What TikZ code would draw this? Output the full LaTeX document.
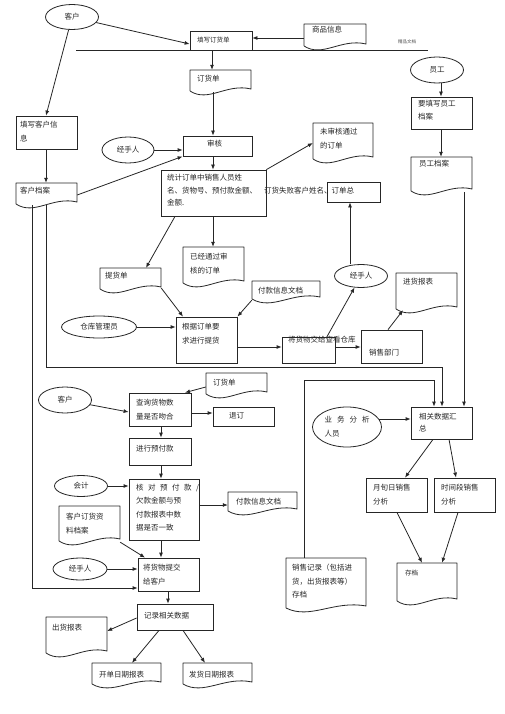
\documentclass[tikz,border=0pt]{standalone}
\usepackage{fontspec}
\setmainfont{Noto Sans CJK SC}
\usetikzlibrary{arrows.meta,shapes.geometric}
\tikzset{
  ln/.style={line width=0.8pt, draw=black!85},
  boxst/.style={rectangle, draw, ln, inner sep=0pt},
  docst/.style={rectangle, inner sep=0pt},
  ellst/.style={ellipse, draw, ln, inner sep=0pt, font=\fontsize{7.5}{12}\selectfont, text=black!85},
  arr/.style={ln, -{Latex[length=5pt,width=4pt]}},
  txt/.style={anchor=north west, inner sep=0pt, align=left, font=\fontsize{7.5}{13.5}\selectfont, text=black!85},
  txts/.style={txt, font=\fontsize{6.5}{12}\selectfont},
}
\newcommand\bx[5]{\node[boxst, minimum width={(#4-#2)*1pt}, minimum height={(#5-#3)*1pt}] (#1) at ({(#2+#4)/2},{(#3+#5)/2}) {};}
\newcommand\dc[5]{%
  \node[docst, minimum width={(#4-#2)*1pt}, minimum height={(#5-#3-3)*1pt}] (#1) at ({(#2+#4)/2},{(#3+#5-3)/2}) {};
  \draw[ln, line join=round] (#2,{#5-4}) -- (#2,#3) -- (#4,#3) -- (#4,{#5-6}) .. controls ({#2+0.6*(#4-#2)},{#5-12}) and ({#2+0.3*(#4-#2)},{#5+8}) .. (#2,{#5-4});}
\newcommand\tx[4]{\node[txt] (#1) at (#2,#3) {#4};}
\begin{document}
\begin{tikzpicture}[x=1pt,y=-1pt]
\fill[white] (0,0) rectangle (505,714);
\useasboundingbox (0,0) rectangle (505,714);

% ---------- ellipses ----------
\node[ellst, minimum width=53pt, minimum height=25pt] (e_cust1) at (72,17) {客户};
\node[ellst, minimum width=53pt, minimum height=26pt] (e_emp) at (437,70) {员工};
\node[ellst, minimum width=52pt, minimum height=26pt] (e_hand1) at (128,150) {经手人};
\node[ellst, minimum width=53pt, minimum height=23pt] (e_hand2) at (361,276) {经手人};
\node[ellst, minimum width=75pt, minimum height=22pt] (e_wh) at (99,327) {仓库管理员};
\node[ellst, minimum width=53pt, minimum height=26pt] (e_cust2) at (65,400) {客户};
\node[ellst, minimum width=53pt, minimum height=21pt] (e_acct) at (81,486) {会计};
\node[ellst, minimum width=54pt, minimum height=22pt] (e_hand3) at (80,569) {经手人};
\node[ellst, minimum width=69pt, minimum height=40pt, align=left, font=\fontsize{7.5}{14}\selectfont] (e_analyst) at (347,427) {业\hspace{5pt}务\hspace{5pt}分\hspace{5pt}析\\人员};

% ---------- boxes ----------
\bx{b_fill}{190}{31}{252}{50}
\bx{b_audit}{183}{136}{252}{156}
\bx{b_stat}{161}{170}{266}{216}
\bx{b_total}{327}{182}{380}{202}
\bx{b_cust_info}{16}{116}{77}{149}
\bx{b_emp_fill}{411}{97}{472}{129}
\bx{b_pick}{176}{317}{237}{363}
\bx{b_deliver}{282}{337}{335}{363}
\bx{b_sales}{361}{330}{422}{363}
\bx{b_query}{129}{393}{191}{426}
\bx{b_cancel}{213}{407}{274}{426}
\bx{b_prepay}{129}{438}{191}{465}
\bx{b_check}{129}{479}{199}{540}
\bx{b_give}{138}{558}{199}{591}
\bx{b_sum}{411}{407}{472}{439}
\bx{b_month}{366}{478}{427}{512}
\bx{b_period}{434}{478}{495}{512}
\bx{b_record}{137}{604}{213}{630}

% ---------- documents ----------
\dc{d_goods}{304}{24}{366}{50}
\dc{d_order}{190}{70}{251}{95}
\dc{d_cust}{16}{183}{77}{208}
\dc{d_unaudit}{313}{123}{373}{163}
\dc{d_emp}{411}{157}{472}{195}
\dc{d_passed}{183}{247}{244}{287}
\dc{d_pickup}{100}{268}{161}{293}
\dc{d_payinfo}{252}{281}{320}{303}
\dc{d_purchase}{396}{273}{457}{313}
\dc{d_order2}{206}{373}{267}{398}
\dc{d_payinfo2}{228}{492}{297}{515}
\dc{d_custorder}{59}{506}{120}{545}
\dc{d_archive}{397}{563}{457}{605}
\dc{d_salesrec}{286}{558}{366}{612}
\dc{d_ship}{46}{617}{107}{657}
\dc{d_open}{92}{663}{161}{688}
\dc{d_send}{183}{663}{252}{688}

% ---------- texts ----------
\node[txts] (t_fill) at (197,37) {填写订货单};
\tx{t_goods}{312}{26}{商品信息}
\tx{t_order}{197}{75}{订货单}
\tx{t_cust_info}{20}{121}{填写客户信\\息}
\tx{t_cust}{20}{187}{客户档案}
\tx{t_emp_fill}{418}{100}{要填写员工\\档案}
\tx{t_emp}{419}{160}{员工档案}
\tx{t_audit}{207}{140}{审核}
\node[txt, font=\fontsize{7.5}{12.5}\selectfont] (t_stat) at (167,174) {统计订单中销售人员姓\\名、货物号、预付款金额、\hspace{7pt}订货失败客户姓名、订单总\\金额.};
\tx{t_unaudit}{320}{128}{未审核通过\\的订单}
\tx{t_passed}{190}{253}{已经通过审\\核的订单}
\tx{t_pickup}{105}{272}{提货单}
\tx{t_payinfo}{258}{287}{付款信息文档}
\tx{t_pick}{182}{323}{根据订单要\\求进行提货}
\tx{t_deliver}{288}{336}{将货物交给查看仓库}
\tx{t_sales}{369}{349}{销售部门}
\tx{t_purchase}{403}{278}{进货报表}
\tx{t_order2}{213}{379}{订货单}
\tx{t_query}{136}{399}{查询货物数\\量是否吻合}
\tx{t_cancel}{229}{412}{退订}
\tx{t_prepay}{136}{445}{进行预付款}
\node[txt, font=\fontsize{7.5}{13.3}\selectfont] (t_check) at (136,484) {核\hspace{4.5pt}对\hspace{4.5pt}预\hspace{4.5pt}付\hspace{4.5pt}款\hspace{4.5pt}/\\欠款金额与预\\付款报表中数\\据是否一致};
\tx{t_payinfo2}{236}{498}{付款信息文档}
\tx{t_custorder}{66}{513}{客户订货资\\料档案}
\tx{t_give}{143}{564}{将货物提交\\给客户}
\tx{t_record}{144}{612}{记录相关数据}
\tx{t_ship}{52}{624}{出货报表}
\tx{t_open}{99}{671}{开单日期报表}
\tx{t_send}{189}{671}{发货日期报表}
\node[txt, font=\fontsize{7.5}{12}\selectfont] (t_sum) at (419,413) {相关数据汇\\总};
\tx{t_month}{373}{484}{月旬日销售\\分析}
\tx{t_period}{441}{484}{时间段销售\\分析}
\node[txts] (t_archive) at (405,570) {存档};
\tx{t_salesrec}{292}{564}{销售记录（包括进\\货，出货报表等）\\存档}
\node[txt, font=\fontsize{4.5}{6}\selectfont, text=black!70] (t_lane) at (398,39) {精品文档};

% ---------- divider ----------
\coordinate (laneL) at (76,50);
\coordinate (laneR) at (428,50);
\draw[ln] (laneL) -- (laneR);

% ---------- connectors ----------
\draw[arr] (e_cust1) -- (b_fill.west |- 0,44);
\draw[arr] (e_cust1) -- (b_cust_info.north -| 46,0);
\draw[arr] (d_goods.west |- 0,38) -- (b_fill.east |- 0,38);
\draw[arr] (b_fill.south -| 212,0) -- (d_order.north -| 212,0);
\draw[arr] (d_order.south -| 213,0) -- (b_audit.north -| 213,0);
\draw[arr] (e_emp.south -| 441,0) -- (b_emp_fill.north -| 441,0);
\draw[arr] (b_emp_fill.south -| 441,0) -- (d_emp.north -| 441,0);
\draw[arr] (b_cust_info.south -| 46,0) -- (d_cust.north -| 46,0);
\draw[arr] (d_cust.east |- 0,195) -- (b_audit.south west);
\draw[arr] (e_hand1) -- (b_audit.west |- e_hand1);
\draw[arr] (b_audit.south -| 213,0) -- (b_stat.north -| 213,0);
\draw[arr] (b_stat.north east) -- (d_unaudit.west |- 0,143);
\draw[arr] (b_stat.south -| 175,0) -- (d_pickup.north -| 146,0);
\draw[arr] (b_stat.south -| 213,0) -- (d_passed.north -| 213,0);
\draw[arr] (d_pickup.east |- 0,288) -- (b_pick.north -| 183,0);
\draw[arr] (d_payinfo.south west) -- (b_pick.north east);
\draw[arr] (e_wh) -- (b_pick.west |- e_wh);
\draw[arr] (b_pick.east |- 0,347) -- (b_deliver.west |- 0,347);
\draw[arr] (b_deliver.north -| 327,0) -- (e_hand2);
\draw[arr] (e_hand2.north -| 350,0) -- (b_total.south -| 350,0);
\draw[arr] (b_deliver.east |- 0,347) -- (b_sales.west |- 0,347);
\draw[arr] (b_sales.north -| 388,0) -- (d_purchase.south -| 403,0);
\draw[arr] (d_cust.south -| 46,0) -- (46,367) -- (442,367) -- (b_sum.north -| 442,0);
\draw[arr] (d_cust.south -| 32,0) -- (32,588) -- (b_give.west |- 0,588);
\draw[arr] (d_emp.south -| 464,0) -- (b_sum.north -| 464,0);
\draw[arr] (d_salesrec.north -| 304,0) -- (304,380) -- (434,380) -- (b_sum.north -| 434,0);
\draw[arr] (e_analyst.14) -- (b_sum.west |- e_analyst.14);
\draw[arr] (b_sum.south -| 433,0) -- (b_month.north -| 405,0);
\draw[arr] (b_sum.south -| 449,0) -- (b_period.north -| 456,0);
\draw[arr] (b_month.south -| 397,0) -- (d_archive.north -| 422,0);
\draw[arr] (b_period.south -| 458,0) -- (d_archive.north -| 442,0);
\draw[arr] (e_cust2) -- (b_query.west |- 0,412);
\draw[arr] (d_order2.west |- 0,387) -- (b_query.north -| 185,0);
\draw[arr] (b_query.east |- 0,413) -- (b_cancel.west |- 0,413);
\draw[arr] (b_query.south -| 161,0) -- (b_prepay.north -| 161,0);
\draw[arr] (b_prepay.south -| 161,0) -- (b_check.north -| 161,0);
\draw[arr] (e_acct) -- (b_check.west |- e_acct);
\draw[arr] (b_check.east |- 0,505) -- (d_payinfo2.west |- 0,505);
\draw[arr] (d_custorder.south east) -- (b_give.north -| 145,0);
\draw[arr] (b_check.south -| 161,0) -- (b_give.north -| 161,0);
\draw[arr] (e_hand3) -- (b_give.west |- e_hand3);
\draw[arr] (b_give.south -| 168,0) -- (b_record.north -| 168,0);
\draw[arr] (b_record.west |- 0,618) -- (d_ship.east |- 0,631);
\draw[arr] (b_record.south -| 159,0) -- (d_open.north -| 132,0);
\draw[arr] (b_record.south -| 183,0) -- (d_send.north -| 205,0);
\end{tikzpicture}
\end{document}
